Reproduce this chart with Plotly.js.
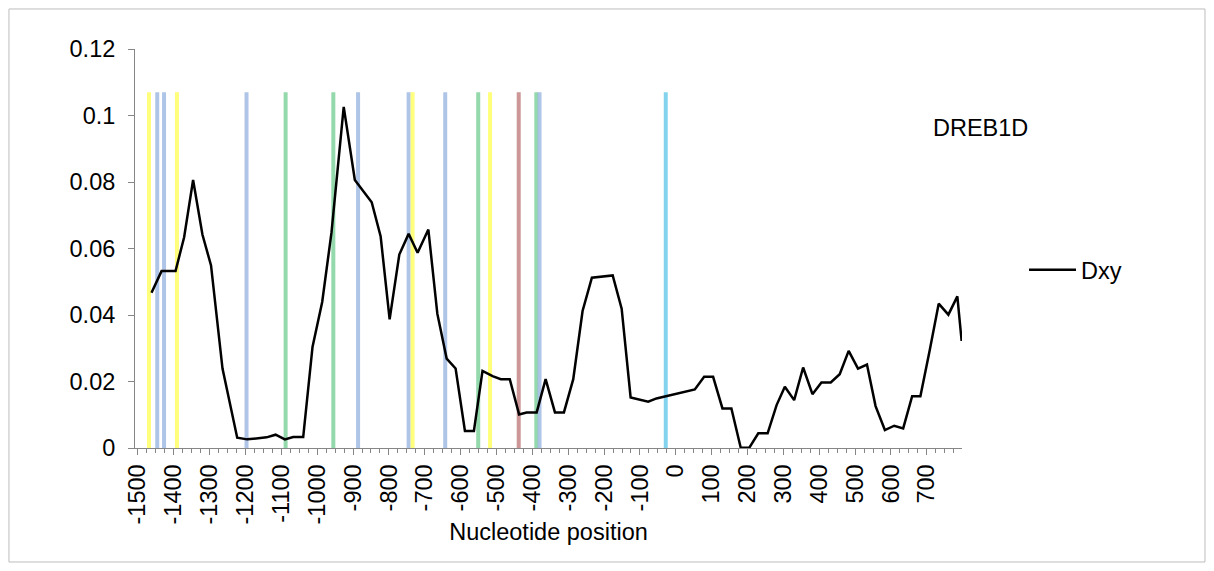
<!DOCTYPE html>
<html>
<head>
<meta charset="utf-8">
<script src="https://cdn.plot.ly/plotly-3.0.1.min.js"></script>
<style>
  html, body { margin: 0; padding: 0; background: #ffffff; }
  #chart { width: 1214px; height: 571px; }
</style>
</head>
<body>
<div id="chart"></div>
<script>
// Dxy sliding-window values along the DREB1D sequence
const positions = [-1462,-1434,-1395,-1371,-1346,-1320,-1296,-1264,-1223,-1195,-1141,-1116,-1090,-1067,-1039,-1013,-986,-960,-926,-895,-848,-823,-798,-771,-745,-720,-690,-665,-639,-614,-588,-563,-539,-511,-488,-463,-437,-416,-388,-363,-337,-312,-286,-260,-234,-176,-151,-126,-77,-54,53,79,104,130,155,181,205,230,256,281,304,330,355,381,406,432,457,482,508,533,557,583,609,634,659,682,708,733,760,785,797];
const dxy = [0.0467,0.0532,0.0532,0.0634,0.0806,0.0642,0.0549,0.0239,0.0031,0.0026,0.0032,0.0040,0.0026,0.0033,0.0033,0.0304,0.0439,0.0649,0.1026,0.0806,0.0739,0.0636,0.0387,0.0582,0.0644,0.0587,0.0657,0.0404,0.0269,0.0239,0.0051,0.0051,0.0232,0.0216,0.0207,0.0207,0.0101,0.0107,0.0107,0.0207,0.0107,0.0107,0.0207,0.0412,0.0512,0.0519,0.0419,0.0152,0.0139,0.0149,0.0176,0.0214,0.0214,0.0119,0.0119,0.0001,0.0001,0.0044,0.0044,0.0129,0.0184,0.0144,0.0242,0.0162,0.0197,0.0197,0.0222,0.0292,0.0239,0.0251,0.0126,0.0054,0.0067,0.0059,0.0156,0.0156,0.0294,0.0434,0.0401,0.0456,0.0322];

// Motif positions (vertical marker lines) and their colours
const motifPositions = [-1469,-1446,-1427,-1391,-1197,-1088,-955,-886,-745,-734,-643,-551,-518,-438,-389,-380,-28];
const motifTypes = ['y','b','b','y','b','g','g','b','b','y','b','g','y','r','g','b','c'];
const motifColors = { y: 'rgba(255,255,100,0.85)', b: 'rgba(155,183,225,0.8)', g: 'rgba(120,208,150,0.8)', r: 'rgba(192,125,125,0.8)', c: 'rgba(100,200,235,0.8)' };
const motifTop = 0.107;

const tickVals = [];
const tickText = [];
for (let v = -1500; v <= 700; v += 100) { tickVals.push(v); tickText.push(String(v)); }

const FONT = '"Liberation Sans", Arial, sans-serif';
const FS = 23.5;

const shapes = motifPositions.map((p, i) => ({
  type: 'line', xref: 'x', yref: 'y', layer: 'below',
  x0: p, x1: p, y0: 0, y1: motifTop,
  line: { color: motifColors[motifTypes[i]], width: 4 }
}));
// outer chart frame
shapes.push({
  type: 'rect', xref: 'paper', yref: 'paper', layer: 'below',
  x0: -0.1524, x1: 1.2938, y0: -0.2857, y1: 1.1003,
  line: { color: '#bdbdbd', width: 1 }, fillcolor: 'rgba(0,0,0,0)'
});

const trace = {
  type: 'scatter', mode: 'lines', name: 'Dxy',
  x: positions, y: dxy,
  line: { color: '#000000', width: 2.5 },
  hoverinfo: 'x+y'
};

const layout = {
  width: 1214, height: 571,
  margin: { l: 135, r: 252, t: 49, b: 123, pad: 0 },
  paper_bgcolor: '#ffffff', plot_bgcolor: '#ffffff',
  font: { family: FONT, size: FS, color: '#000000' },
  showlegend: true,
  legend: {
    x: 1.075, y: 0.446, xanchor: 'left', yanchor: 'middle',
    font: { family: FONT, size: FS, color: '#000000' },
    bgcolor: 'rgba(0,0,0,0)', borderwidth: 0, itemwidth: 47
  },
  xaxis: {
    range: [-1508, 798],
    tickmode: 'array', tickvals: tickVals, ticktext: tickText,
    tickangle: -90,
    ticks: 'outside', ticklen: 6, tickcolor: '#868686', tickwidth: 1,
    minor: { dtick: 25, tick0: -1500, ticks: 'outside', ticklen: 4, tickcolor: '#868686', tickwidth: 1, showgrid: false },
    showline: true, linecolor: '#868686', linewidth: 1,
    showgrid: false, zeroline: false,
    tickfont: { family: FONT, size: FS, color: '#000000' },
    title: { text: 'Nucleotide position', font: { family: FONT, size: FS, color: '#000000' }, standoff: 0 }
  },
  yaxis: {
    range: [0, 0.12], dtick: 0.02, tick0: 0,
    ticks: 'outside', ticklen: 6, tickcolor: '#868686', tickwidth: 1,
    showline: true, linecolor: '#868686', linewidth: 1,
    showgrid: false, zeroline: false,
    tickfont: { family: FONT, size: FS, color: '#000000' },
    ticklabelstandoff: 8
  },
  shapes: shapes,
  annotations: [{
    text: 'DREB1D', xref: 'paper', yref: 'paper',
    x: 1.0218, y: 0.802, xanchor: 'center', yanchor: 'middle',
    showarrow: false, font: { family: FONT, size: FS, color: '#000000' }
  }]
};

Plotly.newPlot('chart', [trace], layout, { displayModeBar: false, staticPlot: true });
</script>
</body>
</html>
